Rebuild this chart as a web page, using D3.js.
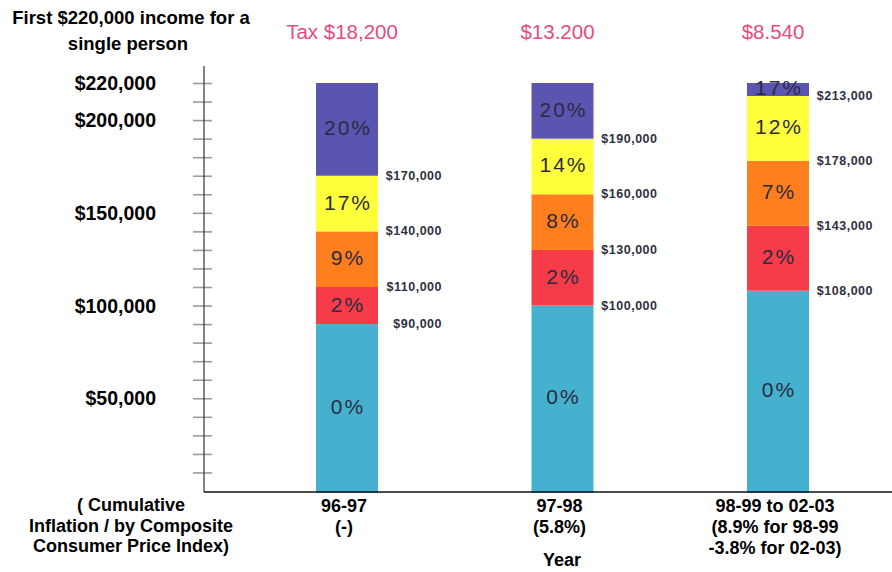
<!DOCTYPE html>
<html>
<head>
<meta charset="utf-8">
<script src="https://cdn.jsdelivr.net/npm/d3@7"></script>
<style>
  html, body { margin: 0; padding: 0; background: #ffffff; }
  svg { display: block; font-family: "Liberation Sans", Arial, Helvetica, sans-serif; }
</style>
</head>
<body>
<svg id="chart" width="892" height="572"></svg>
<script>
// Year groups along the x axis
const categories = ["96-97", "97-98", "98-99 to 02-03"];
const categoryNotes = [
  ["96-97", "(-)"],
  ["97-98", "(5.8%)"],
  ["98-99 to 02-03", "(8.9% for 98-99", "-3.8% for 02-03)"]
];
// Income band boundaries for each year (bottom of band 1 .. top of band 5)
const bandEdges96 = [0, 90000, 110000, 140000, 170000, 220000];
const bandEdges97 = [0, 100000, 130000, 160000, 190000, 220000];
const bandEdges98 = [0, 108000, 143000, 178000, 213000, 220000];
// Marginal tax rate of each band
const rates96 = ["0%", "2%", "9%", "17%", "20%"];
const rates97 = ["0%", "2%", "8%", "14%", "20%"];
const rates98 = ["0%", "2%", "7%", "12%", "17%"];
// Tax payable on the first $220,000
const taxLabels = ["Tax $18,200", "$13.200", "$8.540"];
// Boundary labels printed beside each bar
const edgeLabels96 = ["$90,000", "$110,000", "$140,000", "$170,000"];
const edgeLabels97 = ["$100,000", "$130,000", "$160,000", "$190,000"];
const edgeLabels98 = ["$108,000", "$143,000", "$178,000", "$213,000"];
// Y axis labels
const yTickValues = [50000, 100000, 150000, 200000, 220000];
const yTickLabels = ["$50,000", "$100,000", "$150,000", "$200,000", "$220,000"];

const bandColors = ["#45b1cf", "#f63c49", "#ff7f1f", "#ffff3c", "#5b55b2"];

const years = [
  { edges: bandEdges96, rates: rates96, labels: edgeLabels96 },
  { edges: bandEdges97, rates: rates97, labels: edgeLabels97 },
  { edges: bandEdges98, rates: rates98, labels: edgeLabels98 }
];

const svg = d3.select("#chart");
const axisX = 204, baseY = 491;
const barW = 62;

const x = d3.scalePoint().domain(categories).range([347, 778]);
const y = d3.scaleLinear().domain([0, 220000]).range([baseY, 83]);

// Title
const title = svg.append("text")
  .attr("text-anchor", "middle")
  .attr("font-weight", "bold").attr("font-size", 18.5).attr("fill", "#000");
title.append("tspan").attr("x", 131).attr("y", 24).text("First $220,000 income for a");
title.append("tspan").attr("x", 128).attr("y", 50).text("single person");

// Bars
years.forEach((yr, i) => {
  const cx = x(categories[i]);
  const g = svg.append("g");
  const segs = d3.range(5).map(k => ({ lo: yr.edges[k], hi: yr.edges[k + 1], rate: yr.rates[k], color: bandColors[k] }));
  g.selectAll("rect").data(segs).join("rect")
    .attr("x", cx - barW / 2)
    .attr("width", barW)
    .attr("y", d => y(d.hi))
    .attr("height", d => y(d.lo) - y(d.hi) + (d.lo === 0 ? 2 : 0))
    .attr("fill", d => d.color);
  g.selectAll("text.rate").data(segs).join("text")
    .attr("class", "rate")
    .attr("x", cx + 1)
    .attr("y", d => (y(d.lo) + y(d.hi)) / 2 + 6)
    .attr("text-anchor", "middle")
    .attr("font-size", 21)
    .attr("letter-spacing", 2)
    .attr("fill", "#2b2b3e")
    .text(d => d.rate);
  // boundary amounts, right-aligned beside the bar
  g.selectAll("text.edge").data(yr.labels).join("text")
    .attr("class", "edge")
    .attr("x", cx + barW / 2 + 64)
    .attr("y", (d, k) => y(yr.edges[k + 1]) + 4)
    .attr("text-anchor", "end")
    .attr("font-size", 12.5)
    .attr("font-weight", "bold")
    .attr("letter-spacing", 0.5)
    .attr("fill", "#30303f")
    .text(d => d);
  // tax figure above the bar
  svg.append("text")
    .attr("x", cx - 5).attr("y", 39)
    .attr("text-anchor", "middle")
    .attr("font-size", 20.5)
    .attr("fill", "#e94a80")
    .text(taxLabels[i]);
  // category label below
  const t = svg.append("text")
    .attr("text-anchor", "middle")
    .attr("font-weight", "bold").attr("font-size", 18).attr("fill", "#000");
  categoryNotes[i].forEach((line, k) => {
    t.append("tspan").attr("x", cx - 3).attr("y", 512 + k * 21).text(line);
  });
});

// Y axis ticks
const yAxis = d3.axisLeft(y)
  .tickValues(d3.range(10000, 220001, 10000))
  .tickSize(0)
  .tickFormat("");
const ya = svg.append("g").attr("transform", `translate(${axisX},0)`).call(yAxis);
ya.select(".domain").remove();
ya.selectAll(".tick").append("line")
  .attr("x1", -11).attr("x2", 8)
  .attr("stroke", "#9a9aa4").attr("stroke-width", 1.6);

svg.append("line")
  .attr("x1", axisX).attr("x2", axisX)
  .attr("y1", 66).attr("y2", baseY + 1)
  .attr("stroke", "#333").attr("stroke-width", 1.2);

svg.selectAll("text.ylab").data(yTickValues).join("text")
  .attr("class", "ylab")
  .attr("x", 156)
  .attr("y", d => y(d) + 7)
  .attr("text-anchor", "end")
  .attr("font-weight", "bold").attr("font-size", 19.5).attr("fill", "#000")
  .text((d, i) => yTickLabels[i]);

// X axis line
svg.append("line")
  .attr("x1", axisX).attr("x2", 892)
  .attr("y1", baseY + 1).attr("y2", baseY + 1)
  .attr("stroke", "#111").attr("stroke-width", 1.5);

// Axis notes
const note = svg.append("text")
  .attr("text-anchor", "middle")
  .attr("font-weight", "bold").attr("font-size", 18).attr("fill", "#000");
["( Cumulative", "Inflation / by Composite", "Consumer Price Index)"].forEach((line, k) => {
  note.append("tspan").attr("x", 131).attr("y", 511 + k * 20.5).text(line);
});
svg.append("text")
  .attr("x", 562).attr("y", 566)
  .attr("text-anchor", "middle")
  .attr("font-weight", "bold").attr("font-size", 18).attr("fill", "#000")
  .text("Year");
</script>
</body>
</html>
